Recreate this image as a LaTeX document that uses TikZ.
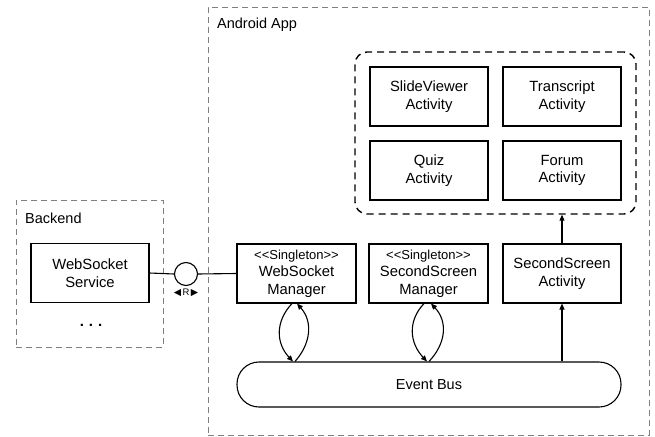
\documentclass[tikz,border=0pt]{standalone}
\usepackage{fontspec}
\setmainfont{Liberation Sans}
\newfontfamily\symfont{DejaVu Sans}
\usetikzlibrary{arrows.meta,calc}
\begin{document}
\begin{tikzpicture}[x=1pt,y=-1pt,
  comp/.style={draw=black,line width=1.1pt,rectangle,align=center,inner sep=0pt,
    minimum width=118pt,minimum height=59pt,font=\fontsize{14.8}{17.5}\selectfont},
  groupbox/.style={draw=black!50,line width=0.9pt,dash pattern=on 6pt off 4pt,rectangle,inner sep=0pt},
  actgroup/.style={draw=black,line width=1.4pt,dash pattern=on 7pt off 5pt,rectangle,rounded corners=12pt,inner sep=0pt},
  conn/.style={draw=black,line width=1.1pt},
  tip/.style={-{Triangle[length=6pt,width=5pt]}},
  lbl/.style={font=\fontsize{14.5}{17}\selectfont,anchor=west,inner sep=0pt}
]
\useasboundingbox (0,0) rectangle (655,436);
% groups
\node[groupbox,minimum width=147pt,minimum height=147pt] (backend) at (89.5,273.5) {};
\node[lbl] (backendlbl) at (25,218) {Backend};
\node[groupbox,minimum width=441pt,minimum height=428pt] (android) at (428.5,221) {};
\node[lbl] (androidlbl) at (217,25) {Android App};
\node[actgroup,minimum width=281pt,minimum height=162pt] (acts) at (495.5,133) {};
% backend
\node[comp] (wss) at (90,273) {WebSocket\\Service};
\node[inner sep=0pt,font=\fontsize{15}{15}\selectfont\bfseries] (dots) at (91,325) {.\hspace{5pt}.\hspace{5pt}.};
% interface
\node[circle,draw=black,line width=1.1pt,minimum size=23pt,inner sep=0pt,fill=white] (iface) at (186,274) {};
\node[inner sep=0pt,font=\fontsize{9.5}{10}\selectfont] (ilbl) at (186,293) {{\symfont ◀}\hspace{1.5pt}R\hspace{1.5pt}{\symfont ▶}};
% managers
\node[comp,minimum width=119pt] (wsm) at (296.5,273.5) {{\fontsize{13}{17.5}\selectfont <{}<Singleton>{}>}\\WebSocket\\Manager};
\node[comp,minimum width=119pt] (ssm) at (428.5,273.5) {{\fontsize{13}{17.5}\selectfont <{}<Singleton>{}>}\\SecondScreen\\Manager};
\node[comp] (ssa) at (562,273.5) {SecondScreen\\Activity};
% activities
\node[comp] (sva) at (429,96.5) {SlideViewer\\Activity};
\node[comp] (tra) at (562,96.5) {Transcript\\Activity};
\node[comp] (qua) at (429,170.5) {Quiz\\Activity};
\node[comp] (foa) at (562,170.5) {Forum\\Activity};
% bus
\node[draw=black,line width=1.1pt,rectangle,rounded corners=22pt,minimum width=384pt,minimum height=45pt,inner sep=0pt,font=\fontsize{14.5}{17}\selectfont] (bus) at (429,384.5) {Event Bus};
% connectors
\draw[conn] (wss.east) -- (iface.west);
\draw[conn] (iface.east) -- (wsm.west);
\draw[conn,tip] ([xshift=-4.5pt]wsm.south) .. controls +(-17,18) and +(-17,-18) .. ([xshift=-3.5pt]wsm.south |- bus.north);
\draw[conn,tip] ([xshift=-1.5pt]wsm.south |- bus.north) .. controls +(16,-18) and +(16,18) .. ([xshift=0.5pt]wsm.south);
\draw[conn,tip] ([xshift=-4.5pt]ssm.south) .. controls +(-17,18) and +(-17,-18) .. ([xshift=-1.5pt]ssm.south |- bus.north);
\draw[conn,tip] ([xshift=0.5pt]ssm.south |- bus.north) .. controls +(17,-18) and +(17,18) .. ([xshift=2.5pt]ssm.south);
\draw[conn,tip] (ssa.south |- bus.north) -- (ssa.south);
\draw[conn,tip] (ssa.north) -- (ssa.north |- acts.south);
\end{tikzpicture}
\end{document}
